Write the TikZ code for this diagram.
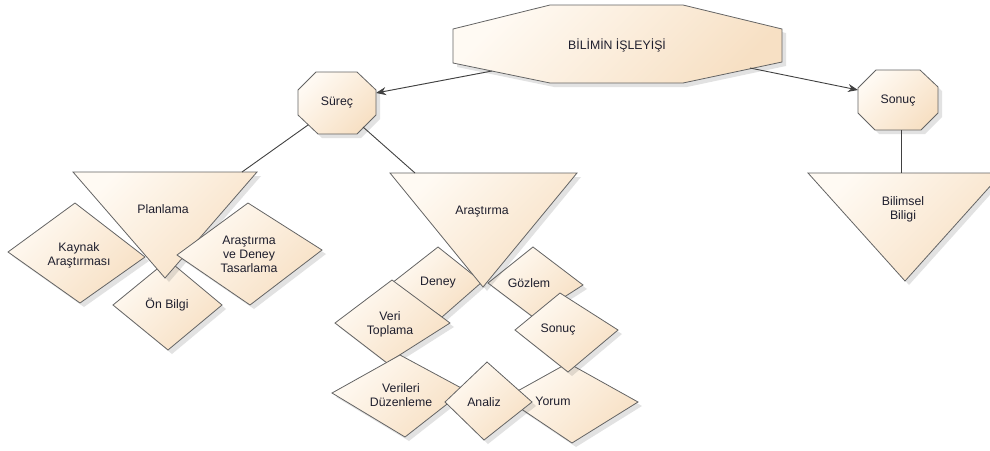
\documentclass[tikz,border=0pt]{standalone}
\usepackage{fontspec}
\setmainfont{Liberation Sans}
\usetikzlibrary{shadows,arrows.meta}
\definecolor{shapeLight}{RGB}{255,250,243}
\definecolor{shapeDark}{RGB}{247,224,196}
\definecolor{edgeGray}{RGB}{100,100,100}
\definecolor{lineGray}{RGB}{65,65,65}
\definecolor{labelInk}{RGB}{30,30,45}
\tikzset{
  shapebox/.style={draw=edgeGray, line width=0.8pt, line join=miter,
    left color=shapeLight, right color=shapeDark, shading angle=45,
    drop shadow={shadow xshift=4pt, shadow yshift=-4pt, opacity=0.16, fill=black!70}},
  txt/.style={text=labelInk, font=\fontsize{12.3}{14}\selectfont, align=center, inner sep=0pt},
  link/.style={draw=lineGray, line width=0.9pt},
  arrowlink/.style={link, -{Stealth[length=10pt,width=8pt]}},
  ghost/.style={draw=black!12, line width=0.9pt},
}
\begin{document}
\begin{tikzpicture}[x=1pt,y=-1pt]
\useasboundingbox (0,0) rectangle (990,450);

% ---- top level
\path[shapebox] (550,5) -- (683,5) -- (782,29) -- (782,62) -- (683,83) -- (550,83) -- (453,63) -- (453,29) -- cycle;
\node[txt] (main) at (617,45) {BİLİMİN İŞLEYİŞİ};

\path[shapebox] (316,72) -- (357,72) -- (376,90) -- (376,115) -- (357,134) -- (318,134) -- (298,115) -- (298,90) -- cycle;
\node[txt] (surec) at (337,103) {Süreç};

\path[shapebox] (876,70) -- (920,70) -- (938,87) -- (938,113) -- (921,130) -- (875,130) -- (858,113) -- (858,88) -- cycle;
\node[txt] (sonuc) at (898,101) {Sonuç};

\path[shapebox] (808,173) -- (1002,173) -- (905,281) -- cycle;
\node[txt] (bilgi) at (903,209) {Bilimsel\\Biligi};

% ---- planning branch
\path[shapebox] (168,260) -- (222,305) -- (168,350) -- (113,305) -- cycle;
\node[txt] (onbilgi) at (167,305) {Ön Bilgi};

\path[shapebox] (75,203) -- (145,257) -- (80,303) -- (8,252) -- cycle;
\node[txt] (kaynak) at (79,255) {Kaynak\\Araştırması};

\path[shapebox] (73,172) -- (257,172) -- (165,278) -- cycle;
\node[txt] (planlama) at (163,209) {Planlama};

\path[shapebox] (248,203) -- (322,250) -- (250,305) -- (177,255) -- cycle;
\node[txt] (tasarlama) at (249,254) {Araştırma\\ve Deney\\Tasarlama};

% ---- research branch
\path[shapebox] (438,247) -- (482,282) -- (442,317) -- (392,283) -- cycle;
\node[txt] (deney) at (438,283) {Deney};

\path[shapebox] (533,247) -- (583,285) -- (533,317) -- (488,283) -- cycle;
\node[txt] (gozlem) at (529,283) {Gözlem};

\path[shapebox] (390,173) -- (577,173) -- (483,287) -- cycle;
\node[txt] (arastirma) at (482,212) {Araştırma};

\path[shapebox] (392,280) -- (450,323) -- (387,363) -- (335,323) -- cycle;
\node[txt] (veri) at (390,324) {Veri\\Toplama};

\path[shapebox] (400,355) -- (465,390) -- (405,437) -- (332,393) -- cycle;
\node[txt] (duzen) at (401,395) {Verileri\\Düzenleme};

\path[shapebox] (568,363) -- (638,402) -- (572,443) -- (505,398) -- cycle;
\node[txt] (yorum) at (553,401) {Yorum};

\path[shapebox] (560,293) -- (618,330) -- (568,372) -- (515,330) -- cycle;
\node[txt] (sonuc2) at (558,330) {Sonuç};

\path[shapebox] (487,362) -- (532,402) -- (484,440) -- (445,402) -- cycle;
\node[txt] (analiz) at (484,402) {Analiz};

% ---- connector end points on the shape borders
\coordinate (main-w) at (492,71);
\coordinate (main-e) at (750,68);
\coordinate (surec-e) at (376,93);
\coordinate (surec-sw) at (308,125);
\coordinate (surec-se) at (363,127);
\coordinate (sonuc-w) at (858,90);
\coordinate (sonuc-s) at (901,130);
\coordinate (planlama-n) at (242,172);
\coordinate (arastirma-n) at (415,173);
\coordinate (bilgi-n) at (901,173);

% ---- faint shadow of the left arrow
\draw[ghost, -{Stealth[length=9pt,width=7pt]}, shift={(11,11)}] (main-w) -- (surec-e);

% ---- connectors
\draw[arrowlink] (main-w) -- (surec-e);
\draw[arrowlink] (main-e) -- (sonuc-w);
\draw[link] (surec-sw) -- (planlama-n);
\draw[link] (surec-se) -- (arastirma-n);
\draw[link] (sonuc-s) -- (bilgi-n);
\end{tikzpicture}
\end{document}
